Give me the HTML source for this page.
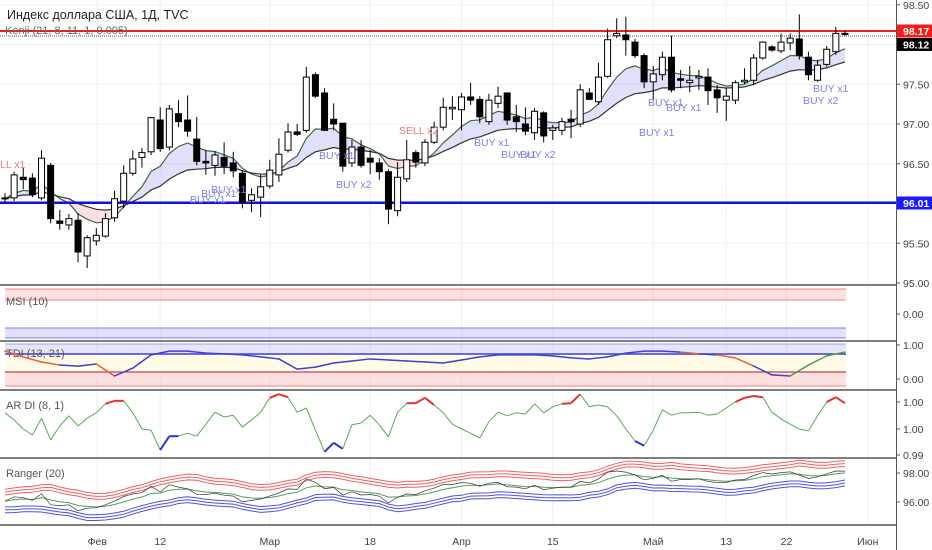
<!DOCTYPE html>
<html><head><meta charset="utf-8">
<style>
html,body{margin:0;padding:0;background:#fff;}
#wrap{position:relative;width:932px;height:550px;overflow:hidden;font-family:"Liberation Sans","Noto Sans CJK SC",sans-serif;}
svg{position:absolute;left:0;top:0;}
</style></head>
<body>
<div id="wrap">
<svg id="svg" width="932" height="550" viewBox="0 0 932 550"></svg>
</div>
<script>
// ---- data ----
const dateLabels = ["Фев","12","Мар","18","Апр","15","Май","13","22","Июн"];
const dateBars = [10.1, 17, 29, 40, 50, 60, 71, 79, 85.6, 94.5];
const opens  = [96.07,96.07,96.33,96.32,96.07,96.48,95.78,95.73,95.79,95.34,95.53,95.59,95.82,96.03,96.38,96.58,96.65,97.05,96.71,97.13,97.05,96.81,96.53,96.48,96.58,96.51,96.38,96.04,96.08,96.22,96.36,96.67,96.90,96.92,97.62,97.39,97.06,97.01,96.51,96.71,96.57,96.51,96.40,95.91,96.31,96.64,96.51,96.77,96.96,97.19,97.18,97.34,97.31,97.03,97.26,97.39,97.09,97.00,96.89,97.14,96.92,96.92,97.06,97.00,97.39,97.28,97.60,98.11,98.12,98.03,97.86,97.53,97.62,97.84,97.57,97.52,97.58,97.59,97.43,97.30,97.30,97.53,97.55,97.83,97.97,97.92,98.02,98.07,97.84,97.55,97.75,97.91,98.14];
const highs  = [96.13,96.40,96.45,96.38,96.67,96.51,95.92,95.87,95.88,95.60,95.69,95.88,96.16,96.48,96.67,96.70,97.09,97.21,97.24,97.30,97.36,97.09,96.67,96.66,96.77,96.65,96.42,96.19,96.36,96.55,96.82,97.01,97.00,97.72,97.65,97.45,97.26,97.01,96.80,96.80,96.67,96.57,96.43,96.52,96.80,96.67,96.81,97.03,97.33,97.35,97.39,97.52,97.35,97.38,97.47,97.40,97.24,97.21,97.20,97.16,96.99,97.08,97.18,97.50,97.45,97.77,98.20,98.33,98.35,98.07,97.89,97.73,97.91,98.11,97.68,97.73,97.68,97.70,97.49,97.45,97.55,97.70,97.88,98.04,97.99,98.14,98.14,98.38,97.91,97.81,97.98,98.22,98.17];
const lows   = [96.01,96.03,96.18,96.08,96.04,95.75,95.67,95.67,95.26,95.19,95.47,95.57,95.77,95.94,96.35,96.45,96.61,96.65,96.67,96.96,96.84,96.48,96.36,96.35,96.37,96.33,95.94,95.89,95.83,96.19,96.27,96.64,96.85,96.89,97.33,96.92,96.92,96.40,96.46,96.45,96.37,96.30,95.74,95.84,96.27,96.45,96.47,96.75,96.92,97.05,96.92,97.24,97.01,96.99,97.20,96.99,96.90,96.86,96.80,96.77,96.80,96.86,96.82,96.96,97.30,97.24,97.58,98.08,97.86,97.83,97.45,97.30,97.55,97.40,97.45,97.40,97.43,97.24,97.14,97.04,97.25,97.50,97.49,97.81,97.91,97.89,97.93,97.81,97.55,97.53,97.72,97.87,98.11];
const closes = [96.06,96.36,96.30,96.11,96.57,95.81,95.75,95.81,95.39,95.57,95.60,95.81,96.06,96.38,96.56,96.64,97.08,96.69,97.19,97.03,96.91,96.53,96.51,96.61,96.47,96.41,96.01,96.11,96.21,96.42,96.62,96.90,96.87,97.59,97.35,96.92,97.00,96.47,96.71,96.48,96.52,96.40,95.93,96.33,96.55,96.52,96.77,96.96,97.21,97.21,97.34,97.30,97.09,97.30,97.35,97.05,97.03,96.91,97.16,96.85,96.95,97.03,97.03,97.43,97.31,97.59,98.06,98.14,98.06,97.86,97.53,97.63,97.84,97.43,97.55,97.55,97.60,97.42,97.33,97.35,97.52,97.55,97.83,98.03,97.93,98.03,98.08,97.86,97.62,97.74,97.94,98.14,98.13];
const tdiValues = [0.82,0.65,0.50,0.41,0.38,0.44,0.09,0.32,0.71,0.82,0.82,0.76,0.74,0.71,0.65,0.59,0.29,0.35,0.47,0.53,0.59,0.56,0.53,0.50,0.47,0.56,0.65,0.71,0.71,0.71,0.68,0.62,0.59,0.65,0.76,0.82,0.82,0.79,0.74,0.71,0.62,0.38,0.12,0.09,0.41,0.68,0.79];
const ardiValues = [72,60,45,35,63,27,50,67,50,63,72,87,92,92,72,45,43,10,33,33,38,33,53,73,65,68,48,60,73,97,103,98,73,80,43,7,22,12,52,55,68,52,32,73,88,88,97,85,72,53,45,38,30,57,73,67,72,70,87,72,82,87,88,103,82,85,82,67,45,25,17,43,77,68,72,72,73,68,70,80,90,97,100,98,73,62,53,45,42,67,90,98,88];
const priceTicks = [98.5,97.5,97.0,96.5,95.5,95.0];
const rangerTicks = [98.0,96.0];
const signals = [
 ["SELL x1",-14,168,"sell"],["BUY x1",211,193,"buy"],["BUY x1",201,197,"buy"],["BUY x1",190,203,"buy"],
 ["BUY x1",319,159,"buy"],["BUY x2",336,188,"buy"],["SELL x2",399,134,"sell"],
 ["BUY x1",474,146,"buy"],["BUY x1",501,158,"buy"],["BUY x2",520,158,"buy"],
 ["BUY x1",648,106,"buy"],["BUY x1",666,111,"buy"],["BUY x1",639,136,"buy"],
 ["BUY x1",813,92,"buy"],["BUY x2",803,104,"buy"]
];
// ---- scales ----
const PLOT_R = 896;
function bx(i){ return 5 + i*9.13; }
function py(p){ return 124 - (p-97)*79.5; }
function ry(p){ return 473 - (p-98)*14.5; }
function ty(v){ return 379 - v*34; }
function ay(v){ return 456 - v*0.6; }
const NS="http://www.w3.org/2000/svg";
const svg=document.getElementById('svg');
function mk(tag,attrs,parent){const e=document.createElementNS(NS,tag);for(const k in attrs)e.setAttribute(k,attrs[k]);(parent||svg).appendChild(e);return e;}
function ema(arr,n){const k=2/(n+1);const o=[];let v=arr[0];for(let i=0;i<arr.length;i++){v=i?arr[i]*k+v*(1-k):arr[i];o.push(v);}return o;}
function pts(vals,xf,yf){return vals.map((v,i)=>xf(i).toFixed(1)+','+yf(v).toFixed(1)).join(' ');}

// grid
const grid=mk('g',{});


dateBars.forEach(b=>{mk('line',{x1:bx(b),x2:bx(b),y1:0,y2:525,stroke:'#eef0f5','stroke-width':1},grid);});
priceTicks.concat([98.0,96.0]).forEach(p=>{mk('line',{x1:0,x2:PLOT_R,y1:py(p),y2:py(p),stroke:'#eef0f5','stroke-width':1},grid);});

// kenji
const fast=ema(closes,8), slow=ema(closes,21);
const kg=mk('g',{});


for(let i=0;i<closes.length-1;i++){
  const up=fast[i]>=slow[i];
  const poly=mk('polygon',{points:`${bx(i)},${py(fast[i])} ${bx(i+1)},${py(fast[i+1])} ${bx(i+1)},${py(slow[i+1])} ${bx(i)},${py(slow[i])}`,fill:up?'rgba(165,165,240,0.35)':'rgba(245,170,170,0.35)'},kg);
  
  
}
const fl=mk('polyline',{points:pts(fast,bx,py),fill:'none',stroke:'#3d6b3d','stroke-width':1.2},kg);


const sl=mk('polyline',{points:pts(slow,bx,py),fill:'none',stroke:'#333','stroke-width':1.2},kg);



// horizontal levels
const lv=mk('g',{});


mk('line',{x1:0,x2:PLOT_R,y1:py(98.17),y2:py(98.17),stroke:'#e82020','stroke-width':2},lv);
mk('line',{x1:0,x2:PLOT_R,y1:py(98.12)+1,y2:py(98.12)+1,stroke:'#555','stroke-width':1,'stroke-dasharray':'1,1'},lv);
mk('line',{x1:0,x2:PLOT_R,y1:py(96.01),y2:py(96.01),stroke:'#1010e0','stroke-width':2.5},lv);

// candles
const cg=mk('g',{});


for(let i=0;i<closes.length;i++){
  const x=bx(i), o=opens[i], c=closes[i];
  const g=mk('g',{},cg);
  
  
  mk('line',{x1:x,x2:x,y1:py(highs[i]),y2:py(lows[i]),stroke:'#000','stroke-width':1},g);
  const top=py(Math.max(o,c)), bot=py(Math.min(o,c));
  mk('rect',{x:x-3,y:top,width:6,height:Math.max(1,bot-top),fill:c>=o?'#fff':'#000',stroke:'#000','stroke-width':1},g);
}

// signals
signals.forEach(s=>{
  const t=mk('text',{x:s[1],y:s[2],'font-size':10.5,fill:s[3]==='buy'?'#7f7fe8':'#f07878','font-family':'Liberation Sans, sans-serif'});
  t.textContent=s[0];
  
  
});

// title
const t1=mk('text',{x:7,y:19,'font-size':12.5,fill:'#222'});t1.textContent='Индекс доллара США, 1Д, TVC';


const t2=mk('text',{x:5,y:34,'font-size':11,fill:'#666'});t2.textContent='Kenji (21, 8, 11, 1, 0.005)';



// pane separators
[285,341,390,458,525].forEach(y=>{const l=mk('line',{x1:0,x2:932,y1:y,y2:y,stroke:'#555','stroke-width':1.5});

});

// MSI pane
const mg=mk('g',{});


mk('rect',{x:5,y:289,width:841,height:11,fill:'rgba(250,170,170,0.35)'},mg);
mk('line',{x1:5,x2:846,y1:289,y2:289,stroke:'#f08080'},mg);
mk('line',{x1:5,x2:846,y1:300,y2:300,stroke:'#f08080'},mg);
mk('rect',{x:5,y:328,width:841,height:10,fill:'rgba(170,170,245,0.35)'},mg);
mk('line',{x1:5,x2:846,y1:328,y2:328,stroke:'#8080f0'},mg);
mk('line',{x1:5,x2:846,y1:338,y2:338,stroke:'#8080f0'},mg);
const ml=mk('text',{x:6,y:305,'font-size':11,fill:'#555'},mg);ml.textContent='MSI (10)';

// TDI pane
const tg=mk('g',{});


mk('rect',{x:5,y:344,width:841,height:11,fill:'rgba(170,170,245,0.3)'},tg);
mk('line',{x1:5,x2:846,y1:344,y2:344,stroke:'#a0a0f0'},tg);
mk('rect',{x:5,y:355,width:841,height:17,fill:'#fffbe6'},tg);
mk('rect',{x:5,y:372,width:841,height:14,fill:'rgba(250,170,170,0.35)'},tg);
mk('line',{x1:5,x2:846,y1:372,y2:372,stroke:'#c04050','stroke-width':1.2},tg);
mk('line',{x1:5,x2:846,y1:386,y2:386,stroke:'#f08080'},tg);
mk('line',{x1:5,x2:846,y1:354,y2:354,stroke:'#4040e0','stroke-width':1.5},tg);
const tl=mk('text',{x:6,y:357,'font-size':11,fill:'#555'},tg);tl.textContent='TDI (13, 21)';
function tx(j){return bx(j*2);}
for(let j=0;j<tdiValues.length-1;j++){
  const d=tdiValues[j+1]-tdiValues[j];
  const col=(d<-0.06&&j<8)||(d<-0.05&&tdiValues[j]>0.6&&j>30&&j<41)?'#e8603a':(d>0.05&&j>42?'#50a050':'#4040d0');
  const s=mk('line',{x1:tx(j),y1:ty(tdiValues[j]),x2:tx(j+1),y2:ty(tdiValues[j+1]),stroke:col,'stroke-width':1.5,'stroke-linecap':'round'},tg);
  
  
}

// AR DI pane
const ag=mk('g',{});


const al=mk('text',{x:6,y:409,'font-size':11,fill:'#555'},ag);al.textContent='AR DI (8, 1)';
for(let i=0;i<ardiValues.length-1;i++){
  const a=ardiValues[i],b=ardiValues[i+1];
  let col='#5aa85a',w=1;
  if(a>=85&&b>=85){col='#e83030';w=2;}
  else if((a<=35&&b<=35)||(a<=35&&b<a)){col='#3030d0';w=2;}
  const s=mk('line',{x1:bx(i),y1:ay(a),x2:bx(i+1),y2:ay(b),stroke:col,'stroke-width':w},ag);
  
  
}

// Ranger pane
const rg=mk('g',{});


const rl=mk('text',{x:6,y:477,'font-size':11,fill:'#555'},rg);rl.textContent='Ranger (20)';
const eh=ema(highs,5), el=ema(lows,5), ec=ema(closes,5);
[0.35,0.55,0.75].forEach(k=>{const l=mk('polyline',{points:pts(eh.map(v=>v+k),bx,ry),fill:'none',stroke:'#f06060','stroke-width':1},rg);

});
[0.35,0.55,0.75].forEach(k=>{const l=mk('polyline',{points:pts(el.map(v=>v-k),bx,ry),fill:'none',stroke:'#5050e0','stroke-width':1},rg);

});
const rc=mk('polyline',{points:pts(ec,bx,ry),fill:'none',stroke:'#50a050','stroke-width':1},rg);


const rp=mk('polyline',{points:pts(closes,bx,ry),fill:'none',stroke:'#334','stroke-width':0.7},rg);



// right axis
const ax=mk('g',{});


mk('rect',{x:PLOT_R,y:0,width:36,height:550,fill:'#fff'},ax);
mk('line',{x1:PLOT_R+0.5,x2:PLOT_R+0.5,y1:0,y2:550,stroke:'#555','stroke-width':1},ax);
function alab(txt,y){const t=mk('text',{x:903,y:y+4,'font-size':10.5,fill:'#444'},ax);t.textContent=txt;mk('line',{x1:PLOT_R,x2:PLOT_R+4,y1:y,y2:y,stroke:'#555'},ax);}
priceTicks.forEach(p=>alab(p.toFixed(2),py(p)));
alab('0.00',314);alab('1.00',345);alab('0.00',379);
alab('1.00',402);alab('1.00',429);alab('0.99',455);
rangerTicks.forEach(p=>alab(p.toFixed(2),ry(p)));
function box(txt,y,col){mk('rect',{x:PLOT_R+1,y:y-6.5,width:36,height:13,fill:col},ax);const t=mk('text',{x:903,y:y+4,'font-size':10.5,'font-weight':'bold',fill:'#fff'},ax);t.textContent=txt;}
box('98.17',31,'#f41d1d');box('98.12',44.5,'#000');box('96.01',203,'#1a1aff');

// date axis
const dg=mk('g',{});


dateLabels.forEach((d,i)=>{const t=mk('text',{x:bx(dateBars[i]),y:545,'font-size':10.5,fill:'#444','text-anchor':'middle'},dg);t.textContent=d;

});
</script>
</body></html>
